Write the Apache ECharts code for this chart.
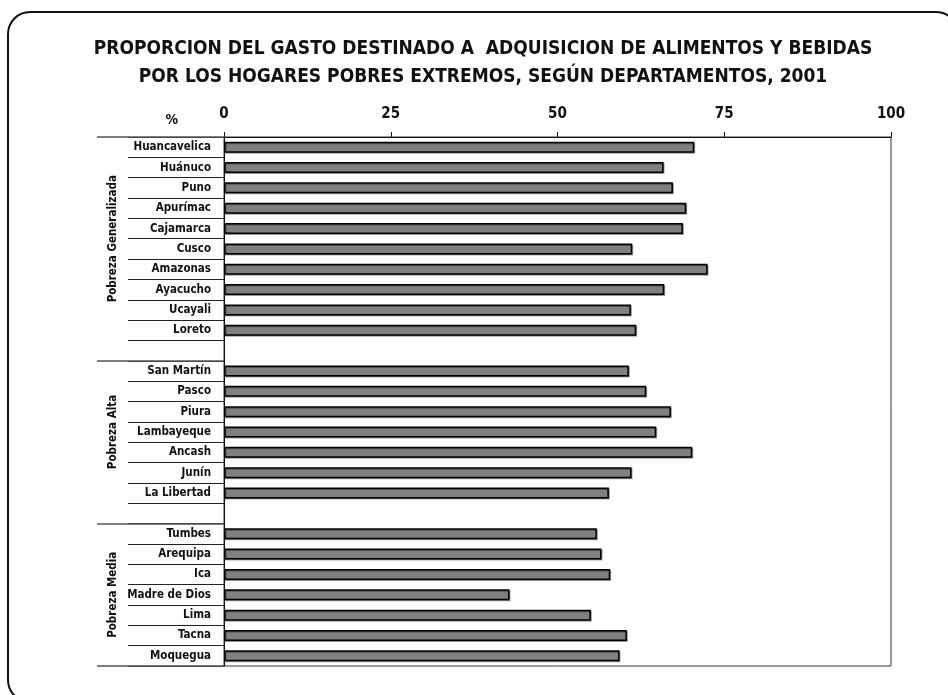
<!DOCTYPE html>
<html>
<head>
<meta charset="utf-8">
<script src="https://cdn.jsdelivr.net/npm/echarts@6/dist/echarts.min.js"></script>
<style>
html,body{margin:0;padding:0;background:#fff;}
#chart{width:948px;height:695px;}
</style>
</head>
<body>
<div id="chart"></div>
<script>
// ---- Data ----
const groupNames = ['Pobreza Generalizada', 'Pobreza Alta', 'Pobreza Media'];
const generalizadaDeps = ['Huancavelica', 'Huánuco', 'Puno', 'Apurímac', 'Cajamarca', 'Cusco', 'Amazonas', 'Ayacucho', 'Ucayali', 'Loreto'];
const generalizadaVals = [70.5, 65.9, 67.3, 69.3, 68.8, 61.2, 72.5, 66.0, 61.0, 61.8];
const altaDeps = ['San Martín', 'Pasco', 'Piura', 'Lambayeque', 'Ancash', 'Junín', 'La Libertad'];
const altaVals = [60.7, 63.3, 67.0, 64.8, 70.2, 61.1, 57.7];
const mediaDeps = ['Tumbes', 'Arequipa', 'Ica', 'Madre de Dios', 'Lima', 'Tacna', 'Moquegua'];
const mediaVals = [55.9, 56.6, 57.9, 42.8, 55.0, 60.4, 59.3];
const xTicks = [0, 25, 50, 75, 100];
const titleLines = ['PROPORCION DEL GASTO DESTINADO A  ADQUISICION DE ALIMENTOS Y BEBIDAS',
                    'POR LOS HOGARES POBRES EXTREMOS, SEGÚN DEPARTAMENTOS, 2001'];

// ---- Build categories with blank separator rows ----
const groupsDeps = [generalizadaDeps, altaDeps, mediaDeps];
const groupsVals = [generalizadaVals, altaVals, mediaVals];
const categories = [];
const values = [];
const groupStarts = [];
const groupCenters = [];
groupsDeps.forEach((deps, gi) => {
  if (gi > 0) { categories.push(' '); values.push('-'); }
  const start = categories.length;
  groupStarts.push(start);
  deps.forEach((d, i) => { categories.push(d); values.push(groupsVals[gi][i]); });
  groupCenters.push((start + categories.length) / 2);
});
const nRows = categories.length;
const groupTicks = groupStarts.concat([nRows]);

const FONT = "'Liberation Sans Narrow', 'Arial Narrow', 'DejaVu Sans Condensed', sans-serif";

const chart = echarts.init(document.getElementById('chart'), null, {renderer: 'canvas'});
chart.setOption({
  animation: false,
  backgroundColor: '#fff',
  textStyle: {fontFamily: FONT},
  title: {
    text: titleLines.join('\n'),
    left: 478,
    textAlign: 'center',
    top: 30,
    textStyle: {fontFamily: FONT, fontWeight: 'bold', fontSize: 19, lineHeight: 28, color: '#111'}
  },
  graphic: [{
    type: 'rect',
    shape: {x: 8, y: 12, width: 950, height: 690, r: 22},
    style: {fill: null, stroke: '#111', lineWidth: 2},
    silent: true, z: -1
  }],
  grid: {left: 224, right: 57, top: 137, bottom: 29, show: true, borderColor: '#333', borderWidth: 1},
  xAxis: {
    type: 'value', position: 'top', min: xTicks[0], max: xTicks[xTicks.length - 1], interval: xTicks[1] - xTicks[0],
    name: '%', nameLocation: 'start', nameGap: 46,
    nameTextStyle: {fontFamily: FONT, fontWeight: 'bold', fontSize: 14, color: '#111', verticalAlign: 'bottom', padding: [0, 0, 10, 0]},
    axisLine: {show: true, lineStyle: {color: '#111', width: 1}},
    axisTick: {show: true, length: 5, inside: false, lineStyle: {color: '#111'}},
    axisLabel: {fontFamily: FONT, fontWeight: 'bold', fontSize: 15, color: '#111', margin: 15},
    splitLine: {show: false}
  },
  yAxis: [{
    type: 'category', data: categories, inverse: true,
    axisLine: {show: true, lineStyle: {color: '#111', width: 1}},
    axisTick: {show: true, interval: 0, length: 96, alignWithLabel: false, lineStyle: {color: '#222', width: 1}},
    axisLabel: {interval: 0, fontFamily: FONT, fontWeight: 'bold', fontSize: 11.5, color: '#111', margin: 13}
  }, {
    type: 'value', min: 0, max: nRows, inverse: true, position: 'left',
    axisLine: {show: false},
    splitLine: {show: false},
    axisTick: {show: true, customValues: groupTicks, length: 127, lineStyle: {color: '#555', width: 1.5}},
    axisLabel: {
      customValues: groupCenters,
      formatter: v => groupNames[groupCenters.indexOf(v)] || '',
      rotate: 90, margin: 105,
      fontFamily: FONT, fontWeight: 'bold', fontSize: 11.5, color: '#111'
    }
  }],
  series: [{
    type: 'bar', yAxisIndex: 0, data: values, barWidth: 11,
    itemStyle: {color: '#808080', borderColor: '#000', borderWidth: 1.5,
                shadowColor: 'rgba(0,0,0,0.35)', shadowOffsetX: 1, shadowOffsetY: 1, shadowBlur: 0}
  }]
});
</script>
</body>
</html>
